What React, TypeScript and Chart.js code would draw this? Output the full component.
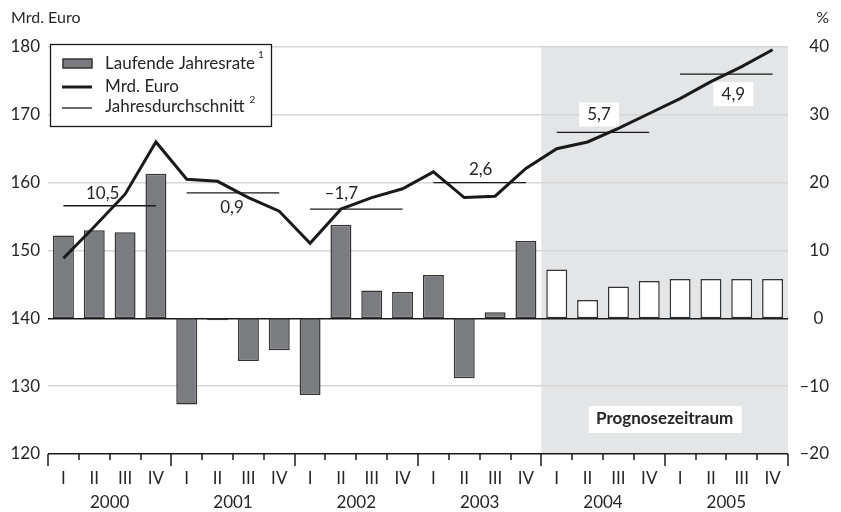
import React, { useEffect, useRef } from "react";
import { Chart, registerables } from "chart.js";

Chart.register(...registerables);

const FONT = "Lato, 'Open Sans', sans-serif";
const FS = 17;
const TEXT = "#262626";

const quarterLabels = [
  "I", "II", "III", "IV", "I", "II", "III", "IV", "I", "II", "III", "IV",
  "I", "II", "III", "IV", "I", "II", "III", "IV", "I", "II", "III", "IV",
];
const yearLabels = ["2000", "2001", "2002", "2003", "2004", "2005"];

// Laufende Jahresrate (%), right axis
const jahresrate = [
  12.2, 13.0, 12.7, 21.3,
  -12.7, -0.3, -6.3, -4.7,
  -11.3, 13.8, 4.1, 3.9,
  6.4, -8.85, 0.9, 11.4,
  7.2, 2.7, 4.7, 5.5,
  5.8, 5.8, 5.8, 5.8,
];

// Mrd. Euro, left axis
const mrdEuro = [
  148.85, 153.5, 158.3, 166.0,
  160.5, 160.2, 157.8, 155.8,
  151.05, 156.1, 157.8, 159.1,
  161.6, 157.8, 158.0, 162.1,
  165.0, 166.0, 168.0, 170.2,
  172.4, 174.9, 177.1, 179.6,
];

// Jahresdurchschnitt (Mrd. Euro) and its growth label
const jahresdurchschnitt = [156.6, 158.5, 156.1, 160.0, 167.4, 176.0];
const wachstum = ["10,5", "0,9", "\u20131,7", "2,6", "5,7", "4,9"];

const forecastStartIndex = 16; // first quarter of 2004

const leftMin = 120;
const leftMax = 180;
const rightMin = -20;
const rightMax = 40;
const tickStep = 10;

const avgSeries = jahresdurchschnitt.flatMap((v) => [v, v, v, v]);

// label placement (pixels) relative to each average line
const labelDx = [-7, -1, -15, 1, -4, 7];
const labelDy = [-12, 15, -16, -13, -18, 20];

const fmtRight = (v: number) => (v < 0 ? "\u2013" + Math.abs(v) : v === 0 ? "0\u2004" : String(v));

const overlayPlugin = {
  id: "overlay",
  beforeDraw(chart: any) {
    const { ctx, chartArea } = chart;
    const x = chart.scales.x;
    const xs =
      (x.getPixelForValue(forecastStartIndex - 1) + x.getPixelForValue(forecastStartIndex)) / 2;
    ctx.save();
    ctx.fillStyle = "#e4e5e7";
    ctx.fillRect(xs, chartArea.top, chartArea.right - xs, chartArea.bottom - chartArea.top);
    ctx.restore();
  },
  afterDraw(chart: any) {
    const { ctx, chartArea } = chart;
    const x = chart.scales.x;
    const y = chart.scales.y;
    ctx.save();

    // x-axis tick marks
    const half = (x.getPixelForValue(1) - x.getPixelForValue(0)) / 2;
    ctx.strokeStyle = "#1a1a1a";
    ctx.lineWidth = 1.5;
    for (let i = 0; i <= quarterLabels.length; i++) {
      const px = Math.round(
        i < quarterLabels.length ? x.getPixelForValue(i) - half : x.getPixelForValue(i - 1) + half
      );
      const len = i % 4 === 0 ? 12 : 6;
      ctx.beginPath();
      ctx.moveTo(px, chartArea.bottom);
      ctx.lineTo(px, chartArea.bottom + len);
      ctx.stroke();
    }

    // average labels
    ctx.font = `${FS}px ${FONT}`;
    ctx.textAlign = "center";
    ctx.textBaseline = "middle";
    jahresdurchschnitt.forEach((v, yi) => {
      const x0 = x.getPixelForValue(yi * 4);
      const x1 = x.getPixelForValue(yi * 4 + 3);
      const cx = (x0 + x1) / 2 + labelDx[yi];
      const cy = y.getPixelForValue(v) + labelDy[yi];
      if (yi * 4 >= forecastStartIndex) {
        ctx.fillStyle = "#ffffff";
        ctx.fillRect(cx - 20, cy - 12, 40, 24);
      }
      ctx.fillStyle = TEXT;
      ctx.fillText(wachstum[yi], cx, cy);
    });

    // Prognosezeitraum
    const xs =
      (x.getPixelForValue(forecastStartIndex - 1) + x.getPixelForValue(forecastStartIndex)) / 2;
    const pcx = (xs + chartArea.right) / 2;
    const pcy = chartArea.bottom - 35;
    ctx.fillStyle = "#ffffff";
    ctx.fillRect(pcx - 76, pcy - 13, 153, 27);
    ctx.fillStyle = TEXT;
    ctx.font = `bold ${FS}px ${FONT}`;
    ctx.fillText("Prognosezeitraum", pcx, pcy);

    // axis titles
    ctx.font = `${FS - 1}px ${FONT}`;
    ctx.textAlign = "left";
    ctx.fillText("Mrd. Euro", 11, 18);
    ctx.textAlign = "right";
    ctx.fillText("%", 829, 18);

    // legend
    const lx = 50, ly = 44, lw = 221, lh = 82;
    ctx.fillStyle = "#ffffff";
    ctx.fillRect(lx, ly, lw, lh);
    ctx.strokeStyle = "#1a1a1a";
    ctx.lineWidth = 1.3;
    ctx.strokeRect(lx + 0.5, ly + 0.5, lw, lh);

    ctx.fillStyle = "#7b7c80";
    ctx.fillRect(63, 59, 29, 9);
    ctx.strokeStyle = "#333333";
    ctx.lineWidth = 1.5;
    ctx.strokeRect(63, 59, 29, 9);

    ctx.strokeStyle = "#1a1a1a";
    ctx.lineWidth = 3;
    ctx.beginPath();
    ctx.moveTo(62, 87);
    ctx.lineTo(92, 87);
    ctx.stroke();

    ctx.lineWidth = 1.3;
    ctx.beginPath();
    ctx.moveTo(62, 108);
    ctx.lineTo(92, 108);
    ctx.stroke();

    ctx.fillStyle = TEXT;
    ctx.textAlign = "left";
    ctx.font = `${FS}px ${FONT}`;
    ctx.fillText("Laufende Jahresrate", 105, 64);
    const w1 = ctx.measureText("Laufende Jahresrate").width;
    ctx.fillText("Mrd. Euro", 105, 87);
    ctx.fillText("Jahresdurchschnitt", 105, 107);
    const w3 = ctx.measureText("Jahresdurchschnitt").width;
    ctx.font = `10px ${FONT}`;
    ctx.fillText("1", 105 + w1 + 3, 55);
    ctx.fillText("2", 105 + w3 + 5, 100);

    ctx.restore();
  },
};

export default function App() {
  const ref = useRef<HTMLCanvasElement | null>(null);

  useEffect(() => {
    if (!ref.current) return;
    const chart = new Chart(ref.current, {
      type: "bar",
      data: {
        labels: quarterLabels,
        datasets: [
          {
            type: "line",
            label: "Mrd. Euro",
            data: mrdEuro,
            yAxisID: "y",
            borderColor: "#1a1a1a",
            borderWidth: 3,
            pointRadius: 0,
            tension: 0,
            order: 0,
          } as any,
          {
            type: "line",
            label: "Jahresdurchschnitt",
            data: avgSeries,
            yAxisID: "y",
            borderColor: "#1a1a1a",
            borderWidth: 1.3,
            pointRadius: 0,
            tension: 0,
            order: 1,
            segment: {
              borderColor: (c: any) =>
                Math.floor(c.p0DataIndex / 4) !== Math.floor(c.p1DataIndex / 4)
                  ? "rgba(0,0,0,0)"
                  : "#1a1a1a",
            },
          } as any,
          {
            type: "bar",
            label: "Laufende Jahresrate",
            data: jahresrate,
            yAxisID: "y1",
            backgroundColor: (c: any) => (c.dataIndex >= forecastStartIndex ? "#ffffff" : "#7b7c80"),
            borderColor: "#333333",
            borderWidth: 1.5,
            borderSkipped: false,
            barPercentage: 0.68,
            categoryPercentage: 1,
            order: 2,
          } as any,
        ],
      },
      options: {
        responsive: false,
        animation: false,
        devicePixelRatio: 1,
        layout: { padding: { top: 47, right: 12, left: 0, bottom: 0 } },
        plugins: { legend: { display: false }, tooltip: { enabled: false } },
        scales: {
          x: {
            type: "category",
            position: "bottom",
            offset: true,
            grid: { display: false },
            border: { display: false },
            ticks: { color: TEXT, font: { family: FONT, size: FS }, padding: 6, maxRotation: 0, autoSkip: false },
            afterFit: (s: any) => { s.height = 35; },
          },
          x2: {
            type: "category",
            position: "bottom",
            labels: yearLabels,
            offset: true,
            grid: { display: false },
            border: { display: false },
            ticks: { color: TEXT, font: { family: FONT, size: FS }, padding: -5, maxRotation: 0, autoSkip: false },
            afterFit: (s: any) => { s.height = 23; },
          },
          y: {
            position: "left",
            min: leftMin,
            max: leftMax,
            ticks: { stepSize: tickStep, color: TEXT, font: { family: FONT, size: FS }, padding: 8 },
            grid: {
              drawTicks: false,
              lineWidth: 1.5,
              color: (c: any) =>
                c.tick && (c.tick.value === 140 || c.tick.value === 120) ? "#1a1a1a" : "#d6d6d6",
            },
            border: { display: false },
            afterFit: (s: any) => { s.width = 48; },
          },
          y1: {
            position: "right",
            min: rightMin,
            max: rightMax,
            ticks: {
              stepSize: tickStep,
              color: TEXT,
              font: { family: FONT, size: FS },
              padding: 8,
              crossAlign: "far",
              callback: (v: any) => fmtRight(Number(v)),
            },
            grid: { display: false, drawTicks: false },
            border: { display: false },
            afterFit: (s: any) => { s.width = 41; },
          },
        },
      } as any,
      plugins: [overlayPlugin],
    });
    return () => chart.destroy();
  }, []);

  return (
    <div style={{ position: "fixed", left: 0, top: 0, width: 841, height: 512, background: "#fff" }}>
      <canvas ref={ref} width={841} height={512} style={{ width: 841, height: 512 }} />
    </div>
  );
}
